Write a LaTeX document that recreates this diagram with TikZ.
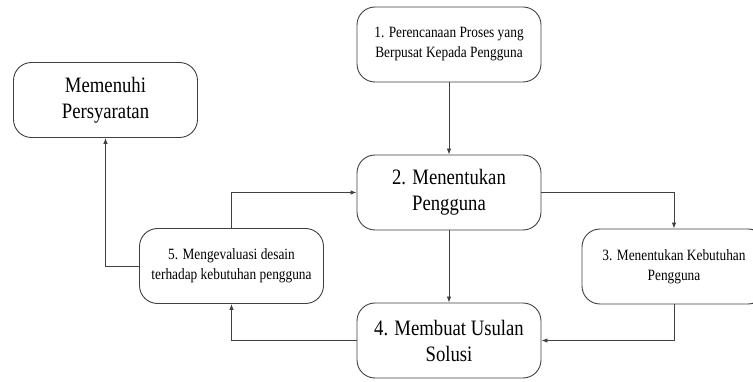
\documentclass[tikz,border=0pt]{standalone}
\usepackage{fontspec}
\setmainfont{Liberation Serif}[FakeStretch=0.85]
\usetikzlibrary{arrows.meta}

\tikzset{
    stepsmall/.style={draw=black!75, line width=0.9pt, rounded corners=18pt,
        minimum width=184pt, minimum height=75pt, align=center,
        font=\fontsize{15.7}{20}\selectfont},
    stepbig/.style={stepsmall, font=\fontsize{22}{26}\selectfont},
    flow/.style={draw=black!75, line width=0.8pt, -{Latex[length=6pt,width=4.5pt]}}
}

\begin{document}
\begin{tikzpicture}[x=1pt,y=-1pt]
        \clip (0,0) rectangle (753,382);

        %steps
        \node[stepsmall] (plan) at (449,44.5) {1. Perencanaan Proses yang\\Berpusat Kepada Pengguna};
        \node[stepbig] (users) at (449,192.5) {2. Menentukan\\Pengguna};
        \node[stepsmall] (needs) at (674,266.5) {3. Menentukan Kebutuhan\\Pengguna};
        \node[stepbig] (solusi) at (449,340.5) {4. Membuat Usulan\\Solusi};
        \node[stepsmall] (eval) at (231.5,266) {5. Mengevaluasi desain\\terhadap kebutuhan pengguna};

        %end
        \node[stepbig] (req) at (105.5,100) {Memenuhi\\Persyaratan};

        %arrows
        \draw[flow] (plan) -- (users);
        \draw[flow] (users) -- (solusi);
        \draw[flow] (users.east) -| (needs.north);
        \draw[flow] (needs.south) |- (solusi.east);
        \draw[flow] (solusi.west) -| (eval.south);
        \draw[flow] (eval.north) |- (users.west);
        \draw[flow] (eval.west) -| (req.south);
    \end{tikzpicture}
\end{document}
